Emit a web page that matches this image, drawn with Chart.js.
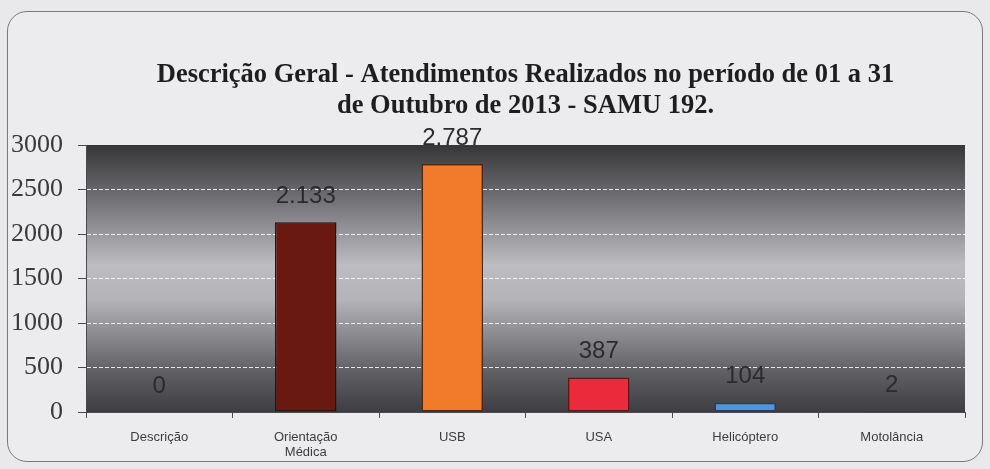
<!DOCTYPE html>
<html>
<head>
<meta charset="utf-8">
<script src="https://cdn.jsdelivr.net/npm/chart.js@4"></script>
<style>
  html, body { margin: 0; padding: 0; background: #e9e9ec; }
  #wrap { position: relative; width: 990px; height: 469px; overflow: hidden; }
  #frame {
    position: absolute; left: 7px; top: 11px; width: 974px; height: 449px;
    border: 1.5px solid #7a7a7e; border-radius: 20px; background: #ececef;
  }
  #chart { position: absolute; left: 0; top: 0; }
</style>
</head>
<body>
<div id="wrap">
  <div id="frame"></div>
  <canvas id="chart" width="990" height="469"></canvas>
</div>
<script>
// SAMU 192 - atendimentos de outubro de 2013

const categories = ["Descrição", ["Orientação", "Médica"], "USB", "USA", "Helicóptero", "Motolância"];
const values = [0, 2133, 2787, 387, 104, 2];
const valueLabels = ["0", "2.133", "2.787", "387", "104", "2"];
const barColors = ["#3f7a3a", "#6a1912", "#f27a2b", "#eb2a3b", "#4f94dc", "#2e2e2e"];
const barBorders = ["#2a3a2a", "#2a1410", "#4a2814", "#5a1818", "#2a3a5a", "#1e1e1e"];
const yTicks = [0, 500, 1000, 1500, 2000, 2500, 3000];

const plotBackground = {
  id: "plotBackground",
  beforeDraw(chart) {
    const { ctx, chartArea } = chart;
    const g = ctx.createLinearGradient(0, chartArea.top, 0, chartArea.bottom);
    g.addColorStop(0, "#363638");
    g.addColorStop(0.14, "#5e5e62");
    g.addColorStop(0.45, "#bdbdc1");
    g.addColorStop(0.58, "#b4b4b8");
    g.addColorStop(0.85, "#606064");
    g.addColorStop(1, "#3e3e42");
    ctx.save();
    ctx.fillStyle = g;
    ctx.fillRect(chartArea.left, chartArea.top, chartArea.right - chartArea.left, chartArea.bottom - chartArea.top);
    ctx.restore();
  },
};

const barValueLabels = {
  id: "barValueLabels",
  afterDatasetsDraw(chart) {
    const { ctx } = chart;
    const meta = chart.getDatasetMeta(0);
    ctx.save();
    ctx.font = "24px 'Liberation Sans', Arial, sans-serif";
    ctx.fillStyle = "#2b2b2d";
    ctx.textAlign = "center";
    ctx.textBaseline = "middle";
    meta.data.forEach((bar, i) => {
      ctx.fillText(valueLabels[i], bar.x, bar.y - 26);
    });
    ctx.restore();
  },
};

new Chart(document.getElementById("chart").getContext("2d"), {
  type: "bar",
  data: {
    labels: categories,
    datasets: [
      {
        data: values,
        backgroundColor: barColors,
        borderColor: barBorders,
        borderWidth: 1.5,
        borderSkipped: false,
        categoryPercentage: 1,
        barPercentage: 0.42,
      },
    ],
  },
  plugins: [plotBackground, barValueLabels],
  options: {
    responsive: false,
    animation: false,
    layout: {
      padding: { left: 0, right: 25, top: 0, bottom: 0 },
    },
    plugins: {
      legend: { display: false },
      tooltip: { enabled: false },
      title: {
        display: true,
        fullSize: false,
        text: [
          "Descrição Geral - Atendimentos Realizados no período de 01 a 31",
          "de Outubro de 2013 - SAMU 192.",
        ],
        color: "#1e1e20",
        font: {
          family: "'Liberation Serif', 'Times New Roman', serif",
          size: 26.5,
          weight: "bold",
          lineHeight: 1.17,
        },
        padding: { top: 60, bottom: 23 },
      },
    },
    scales: {
      y: {
        min: 0,
        max: 3000,
        afterFit(scale) {
          scale.width = 86;
        },
        afterBuildTicks(scale) {
          scale.ticks = yTicks.map((v) => ({ value: v }));
        },
        grid: {
          color: (ctx) =>
            ctx.tick && (ctx.tick.value === 0 || ctx.tick.value === 3000)
              ? "rgba(0,0,0,0)"
              : "rgba(255,255,255,0.85)",
          lineWidth: 1,
          tickLength: 8,
          tickColor: "#4a4a4e",
          tickBorderDash: [],
        },
        border: { display: true, color: "#4a4a4e", width: 1, dash: [4, 2] },
        ticks: {
          color: "#3a3a3c",
          padding: 15,
          callback: (value) => String(value),
          font: {
            family: "'Liberation Serif', 'Times New Roman', serif",
            size: 26,
          },
        },
      },
      x: {
        afterFit(scale) {
          scale.height = 57;
        },
        grid: {
          drawOnChartArea: false,
          tickLength: 6,
          tickColor: "#4a4a4e",
        },
        border: { display: true, color: "#4a4a4e", width: 1 },
        ticks: {
          color: "#3d3d40",
          padding: 12,
          maxRotation: 0,
          font: {
            family: "'Liberation Sans', Arial, sans-serif",
            size: 13,
            lineHeight: 1.15,
          },
        },
      },
    },
  },
});
</script>
</body>
</html>
